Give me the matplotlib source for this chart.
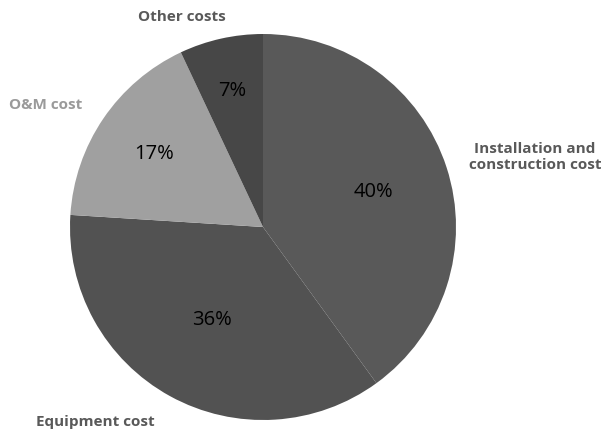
import matplotlib.pyplot as plt
import numpy as np

# Cost shares (%), clockwise from 12 o'clock
categories = ['Installation and\nconstruction cost', 'Equipment cost', 'O&M cost', 'Other costs']
shares = [40, 36, 17, 7]
slice_colors = ['#595959', '#525252', '#a0a0a0', '#474747']
label_colors = ['#595959', '#595959', '#9a9a9a', '#595959']

# per-slice label placement (fraction of radius)
pct_dist = [0.60, 0.545, 0.68, 0.73]
label_pos = [(535, 157), (95, 422), (46, 105), (182, 17)]  # pixel coords, from top-left

W, H = 604, 431
fig = plt.figure(figsize=(W / 100, H / 100), dpi=100)
ax = fig.add_axes([0, 0, 1, 1])

cx, cy, r = 263, H - 228, 193
wedges, _ = ax.pie(shares, colors=slice_colors, startangle=90, counterclock=False,
                   center=(cx, cy), radius=r, frame=True,
                   wedgeprops=dict(linewidth=0))
ax.set_xlim(0, W)
ax.set_ylim(0, H)
ax.set_aspect('equal')
ax.axis('off')

for w, s, d in zip(wedges, shares, pct_dist):
    ang = np.deg2rad((w.theta1 + w.theta2) / 2)
    ax.text(cx + d * r * np.cos(ang), cy + d * r * np.sin(ang), f'{s}%',
            ha='center', va='center', fontsize=14.5, color='black',
            family='Open Sans')

for name, (x, y), c in zip(categories, label_pos, label_colors):
    ax.text(x, H - y, name, ha='center', va='center', fontsize=11, fontweight='bold',
            color=c, family='Open Sans', linespacing=1.25)

fig.savefig('out.png', dpi=100)
